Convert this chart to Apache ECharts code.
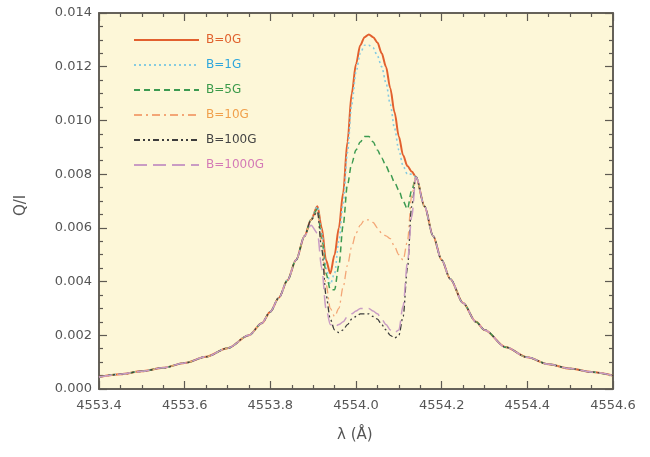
<!DOCTYPE html>
<html>
<head>
<meta charset="utf-8">
<script src="https://cdn.jsdelivr.net/npm/echarts@6/dist/echarts.min.js"></script>
<style>
  html, body { margin: 0; padding: 0; background: #ffffff; }
  #wrap { position: relative; width: 650px; height: 457px; }
  /* cream panel behind the plotting area */
  #panel { position: absolute; left: 99px; top: 13px; width: 514px; height: 376px; background: #fdf7d8; }
  #chart { position: absolute; left: 0; top: 0; width: 650px; height: 457px; }
</style>
</head>
<body>
<div id="wrap">
  <div id="panel"></div>
  <div id="chart"></div>
</div>
<script>
// Wavelength samples (Angstrom) of the line profile
const wingLeftLambda = [4553.40, 4553.45, 4553.50, 4553.55, 4553.60, 4553.65, 4553.70, 4553.75, 4553.78, 4553.80, 4553.82, 4553.84, 4553.86, 4553.88];
const wingLeftQ      = [0.00045, 0.00055, 0.00066, 0.00079, 0.00097, 0.00120, 0.00152, 0.00200, 0.00245, 0.00288, 0.00340, 0.00405, 0.00480, 0.00570];

const coreLambda = [4553.895, 4553.91, 4553.92, 4553.93, 4553.94, 4553.95, 4553.96, 4553.97, 4553.98, 4553.99,
                    4554.00, 4554.01, 4554.02, 4554.03, 4554.04, 4554.05, 4554.06, 4554.07, 4554.08, 4554.09,
                    4554.10, 4554.11, 4554.12, 4554.13];

const wingRightLambda = [4554.14, 4554.16, 4554.18, 4554.20, 4554.22, 4554.25, 4554.28, 4554.30, 4554.35, 4554.40, 4554.45, 4554.50, 4554.55, 4554.60];
const wingRightQ      = [0.0079, 0.0068, 0.0057, 0.0048, 0.0041, 0.0032, 0.0025, 0.0022, 0.00155, 0.00118, 0.00092, 0.00076, 0.00063, 0.00050];

// Q/I in the line core for each field strength
const coreB0    = [0.0063, 0.0068, 0.0060, 0.0048, 0.0043, 0.0050, 0.0060, 0.0073, 0.0092, 0.0110, 0.0121, 0.0128, 0.0131, 0.0132, 0.0131, 0.0129, 0.0125, 0.0120, 0.0112, 0.0103, 0.0094, 0.0087, 0.0083, 0.0081];
const coreB1    = [0.0063, 0.0068, 0.0058, 0.0045, 0.0039, 0.0043, 0.0055, 0.0069, 0.0088, 0.0106, 0.0118, 0.0125, 0.0128, 0.0128, 0.0127, 0.0124, 0.0120, 0.0114, 0.0106, 0.0097, 0.0089, 0.0083, 0.0080, 0.0080];
const coreB5    = [0.0063, 0.0067, 0.0056, 0.0043, 0.0037, 0.0037, 0.0046, 0.0061, 0.0076, 0.0084, 0.0089, 0.0092, 0.0094, 0.0094, 0.0092, 0.0089, 0.0086, 0.0083, 0.0080, 0.0077, 0.0074, 0.0070, 0.0067, 0.0074];
const coreB10   = [0.0063, 0.0066, 0.0054, 0.0039, 0.0030, 0.0027, 0.0030, 0.0038, 0.0046, 0.0053, 0.0058, 0.0061, 0.0063, 0.0063, 0.0062, 0.0060, 0.0058, 0.0057, 0.0056, 0.0053, 0.0050, 0.0048, 0.0055, 0.0072];
const coreB100  = [0.0063, 0.0066, 0.0052, 0.0035, 0.0026, 0.0022, 0.0021, 0.0022, 0.0024, 0.0026, 0.0027, 0.0028, 0.0028, 0.0028, 0.0027, 0.0026, 0.0024, 0.0022, 0.0020, 0.0019, 0.0020, 0.0027, 0.0045, 0.0068];
const coreB1000 = [0.0061, 0.0058, 0.0045, 0.0030, 0.0024, 0.0023, 0.0024, 0.0025, 0.0027, 0.0028, 0.0029, 0.0030, 0.0030, 0.0030, 0.0029, 0.0028, 0.0026, 0.0024, 0.0022, 0.0021, 0.0022, 0.0031, 0.0047, 0.0064];

const seriesNames  = ['B=0G', 'B=1G', 'B=5G', 'B=10G', 'B=100G', 'B=1000G'];
const seriesCores  = [coreB0, coreB1, coreB5, coreB10, coreB100, coreB1000];
const lineColors   = ['#e2602e', '#86cbe0', '#3c9a50', '#f3a676', '#3c3c3c', '#c99cc4'];
const labelColors  = ['#e0622e', '#2ea6dc', '#3b9a4a', '#f0a04c', '#444444', '#d47ab6'];
const lineDashes   = ['solid', [2, 3], [6, 4], [8, 4, 2, 4], [6, 3, 2, 3, 2, 3], [13, 6]];
const lineWidths   = [2, 1.6, 1.5, 1.3, 1.3, 1.5];

function profile(core) {
  const pts = [];
  wingLeftLambda.forEach((l, i) => pts.push([l, wingLeftQ[i]]));
  coreLambda.forEach((l, i) => pts.push([l, core[i]]));
  wingRightLambda.forEach((l, i) => pts.push([l, wingRightQ[i]]));
  return pts;
}

const chart = echarts.init(document.getElementById('chart'), null, { renderer: 'canvas' });

const frameColor = '#5e5a52';
const labelFont = { fontFamily: 'DejaVu Sans', fontSize: 13, color: '#555' };
const titleFont = { fontFamily: 'DejaVu Sans', fontSize: 15, fill: '#555' };
const plotBox = { left: 99, right: 37, top: 13, bottom: 68 };

function axisCommon(opts) {
  return Object.assign({
    type: 'value',
    axisLine: { show: true, onZero: false, lineStyle: { color: frameColor, width: 1.6 } },
    axisTick: { show: true, inside: true, length: 8, lineStyle: { color: frameColor, width: 1.2 } },
    minorTick: { show: true, splitNumber: 4, length: 4, lineStyle: { color: frameColor, width: 1.2 } },
    splitLine: { show: false },
    minorSplitLine: { show: false }
  }, opts);
}
const xRange = { min: 4553.4, max: 4554.6, interval: 0.2 };
const yRange = { min: 0, max: 0.014, interval: 0.002 };

chart.setOption({
  backgroundColor: 'transparent',
  animation: false,
  // grid 0 carries the data and draws the frame; grid 1 overlays it to mirror the ticks on the top and right edges
  grid: [
    Object.assign({ show: true, backgroundColor: 'transparent', borderColor: frameColor, borderWidth: 1.5 }, plotBox),
    Object.assign({}, plotBox)
  ],
  // axis titles
  graphic: [
    { type: 'text', left: 337, top: 428, style: Object.assign({ text: 'λ (Å)' }, titleFont) },
    { type: 'text', x: 14, y: 216, rotation: Math.PI / 2, style: Object.assign({ text: 'Q/I' }, titleFont) }
  ],
  legend: {
    orient: 'vertical', left: 128, top: 29,
    itemWidth: 65, itemHeight: 14, itemGap: 13,
    itemStyle: { opacity: 0 },
    data: seriesNames.map((n, i) => ({
      name: n,
      textStyle: { color: labelColors[i], fontFamily: 'DejaVu Sans', fontSize: 12, padding: [0, 0, 0, 2] }
    }))
  },
  xAxis: [
    axisCommon(Object.assign({
      gridIndex: 0,
      axisLabel: Object.assign({ margin: 10, formatter: v => v.toFixed(1) }, labelFont)
    }, xRange)),
    axisCommon(Object.assign({ gridIndex: 1, position: 'top', axisLabel: { show: false } }, xRange))
  ],
  yAxis: [
    axisCommon(Object.assign({
      gridIndex: 0,
      axisLabel: Object.assign({ margin: 7, formatter: v => v.toFixed(3) }, labelFont)
    }, yRange)),
    axisCommon(Object.assign({ gridIndex: 1, position: 'right', axisLabel: { show: false } }, yRange))
  ],
  series: seriesNames.map((n, i) => ({
    name: n,
    type: 'line',
    xAxisIndex: 0, yAxisIndex: 0,
    data: profile(seriesCores[i]),
    symbol: 'none',
    smooth: 0.3,
    smoothMonotone: 'x',
    color: lineColors[i],
    lineStyle: { color: lineColors[i], width: lineWidths[i], type: lineDashes[i] }
  }))
});
</script>
</body>
</html>
